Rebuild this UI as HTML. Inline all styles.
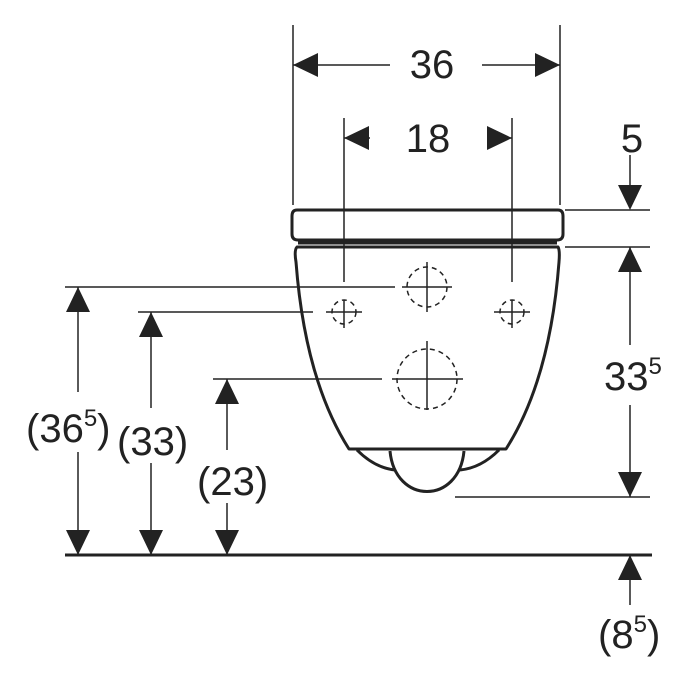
<!DOCTYPE html>
<html><head><style>body{margin:0;background:#fff}svg{display:block}text{font-family:"Liberation Sans",sans-serif;fill:#222}</style></head><body>
<svg width="700" height="700" viewBox="0 0 700 700" xmlns="http://www.w3.org/2000/svg">
<defs>
<g id="ad"><polygon points="-12,-25 12,-25 0,0" fill="#222"/></g>
<g id="au"><polygon points="-12,25 12,25 0,0" fill="#222"/></g>
<g id="ar"><polygon points="-25,-12 -25,12 0,0" fill="#222"/></g>
<g id="al"><polygon points="25,-12 25,12 0,0" fill="#222"/></g>
</defs>
<g stroke="#222" stroke-width="1.5" fill="none">
<line x1="293" y1="25" x2="293" y2="205"/><line x1="560" y1="25" x2="560" y2="205"/>
<line x1="293" y1="65" x2="390" y2="65"/><line x1="482" y1="65" x2="560" y2="65"/>
<line x1="344" y1="118" x2="344" y2="282"/><line x1="512" y1="118" x2="512" y2="282"/>
<line x1="344" y1="138" x2="370" y2="138"/><line x1="487" y1="138" x2="512" y2="138"/>
<line x1="630" y1="155" x2="630" y2="190"/>
<line x1="565" y1="210" x2="650" y2="210"/><line x1="565" y1="247" x2="650" y2="247"/>
<line x1="630" y1="247" x2="630" y2="345"/><line x1="630" y1="405" x2="630" y2="497"/>
<line x1="455" y1="497" x2="650" y2="497"/>
<line x1="630" y1="555" x2="630" y2="605"/>
<line x1="65" y1="287" x2="395" y2="287"/>
<line x1="138" y1="312" x2="313" y2="312"/>
<line x1="213" y1="379" x2="382" y2="379"/>
<line x1="78" y1="287" x2="78" y2="392"/><line x1="78" y1="452" x2="78" y2="555"/>
<line x1="151" y1="312" x2="151" y2="408"/><line x1="151" y1="463" x2="151" y2="555"/>
<line x1="227" y1="379" x2="227" y2="450"/><line x1="227" y1="503" x2="227" y2="555"/>
<line x1="402" y1="287" x2="452" y2="287"/><line x1="427" y1="262" x2="427" y2="312"/>
<line x1="326" y1="312" x2="362" y2="312"/><line x1="344" y1="300" x2="344" y2="328"/>
<line x1="494" y1="312" x2="530" y2="312"/><line x1="512" y1="300" x2="512" y2="328"/>
<line x1="392" y1="379" x2="463" y2="379"/><line x1="427" y1="341" x2="427" y2="410"/>
</g>
<g stroke="#222" stroke-width="1.5" fill="none" stroke-dasharray="5,4">
<circle cx="427" cy="287" r="20"/><circle cx="344" cy="312" r="12"/><circle cx="512" cy="312" r="12"/><circle cx="427" cy="379" r="30"/>
</g>
<g stroke="#222" stroke-width="3" fill="none" stroke-linejoin="round">
<path d="M297,210 L558,210 Q563,210 563,216 L563,234 Q563,240 557,240 L298,240 Q292,240 292,234 L292,216 Q292,210 297,210 Z"/>
<line x1="298" y1="243" x2="557" y2="243"/>
<path d="M297,247 L558,247 Q560,250 559,262 Q550,380 506,449 L349,449 Q305,380 296,262 Q294,250 297,247 Z"/>
<path d="M357,450 Q375,468 395,470 M499,450 Q481,468 460,470"/>
<path d="M390,451 C395,505 459,505 464,451"/>
</g>
<line x1="65" y1="555" x2="652" y2="555" stroke="#222" stroke-width="3"/>
<use href="#al" x="293" y="65"/><use href="#ar" x="560" y="65"/>
<use href="#al" x="344" y="138"/><use href="#ar" x="512" y="138"/>
<use href="#ad" x="630" y="210"/>
<use href="#au" x="630" y="247"/><use href="#ad" x="630" y="497"/>
<use href="#au" x="630" y="555"/>
<use href="#au" x="78" y="287"/><use href="#ad" x="78" y="555"/>
<use href="#au" x="151" y="312"/><use href="#ad" x="151" y="555"/>
<use href="#au" x="227" y="379"/><use href="#ad" x="227" y="555"/>
<text x="432" y="78" font-size="40" text-anchor="middle">36</text>
<text x="428" y="152" font-size="40" text-anchor="middle">18</text>
<text x="632" y="152" font-size="40" text-anchor="middle">5</text>
<text x="604" y="390" font-size="40">33<tspan font-size="24" dy="-16">5</tspan></text>
<text x="598" y="648" font-size="40">(8<tspan font-size="24" dy="-16">5</tspan><tspan dy="16">)</tspan></text>
<text x="26" y="442" font-size="40">(36<tspan font-size="24" dy="-16">5</tspan><tspan dy="16">)</tspan></text>
<text x="117" y="455" font-size="40">(33)</text>
<text x="197" y="495" font-size="40">(23)</text>
</svg>
</body></html>
